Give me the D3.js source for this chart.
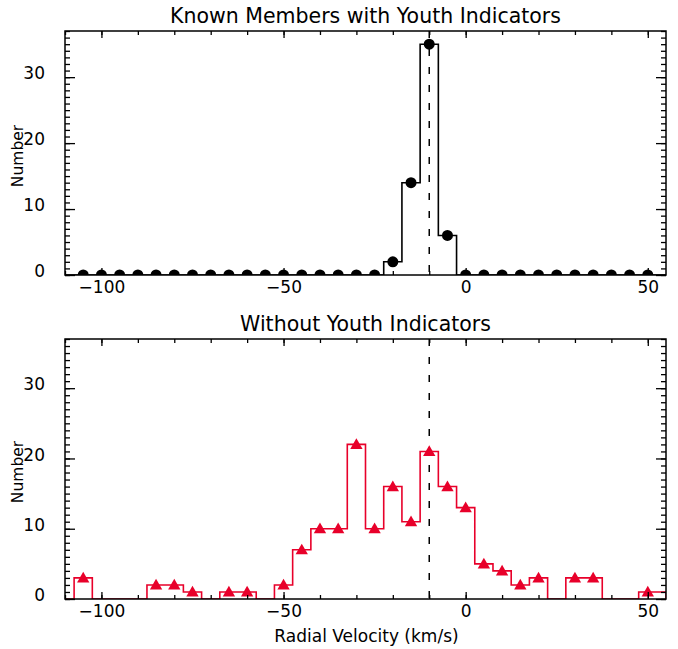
<!DOCTYPE html>
<html>
<head>
<meta charset="utf-8">
<script src="https://cdn.jsdelivr.net/npm/d3@7"></script>
<style>
  html, body { margin: 0; padding: 0; background: #fff; }
  svg { display: block; }
  text { font-family: "DejaVu Sans", "Liberation Sans", sans-serif; fill: #000; }
</style>
</head>
<body>
<svg id="chart" width="678" height="649"></svg>
<script>
// Radial velocity bin centres (km/s), 5 km/s wide
const binCenters = [-105, -100, -95, -90, -85, -80, -75, -70, -65, -60, -55, -50,
  -45, -40, -35, -30, -25, -20, -15, -10, -5, 0, 5, 10, 15, 20, 25, 30, 35, 40, 45, 50];
const binWidth = 5;

// Counts: known members with youth indicators
const youthCounts = [0, 0, 0, 0, 0, 0, 0, 0, 0, 0, 0, 0,
  0, 0, 0, 0, 0, 2, 14, 35, 6, 0, 0, 0, 0, 0, 0, 0, 0, 0, 0, 0];

// Counts: stars without youth indicators
const noYouthCounts = [3, 0, 0, 0, 2, 2, 1, 0, 1, 1, 0, 2,
  7, 10, 10, 22, 10, 16, 11, 21, 16, 13, 5, 4, 2, 3, 0, 3, 3, 0, 0, 1];

// Reference velocity of the group
const meanVelocity = -10;

const xDomain = [-110, 55];
const yDomain = [0, 37];
const xMajorTicks = [-100, -50, 0, 50];
const xMinorTicks = d3.range(-110, 56, 10);
const yMajorTicks = [0, 10, 20, 30];
const yMinorTicks = d3.range(0, 38, 1);

const panels = [
  { title: "Known Members with Youth Indicators", counts: youthCounts, top: 31, bottom: 275,
    color: "#000", marker: "circle", showZeroMarkers: true, xTitle: null },
  { title: "Without Youth Indicators", counts: noYouthCounts, top: 339, bottom: 599,
    color: "#e8002a", marker: "triangle", showZeroMarkers: false, xTitle: "Radial Velocity (km/s)" }
];

const left = 65, right = 666;
const svg = d3.select("#chart");

panels.forEach((p, i) => {
  const x = d3.scaleLinear().domain(xDomain).range([left, right]);
  const y = d3.scaleLinear().domain(yDomain).range([p.bottom, p.top]);
  const g = svg.append("g");

  const clipId = "clip" + i;
  svg.append("clipPath").attr("id", clipId)
    .append("rect").attr("x", left).attr("y", p.top)
    .attr("width", right - left).attr("height", p.bottom - p.top);

  // Step outline of the histogram
  const pts = [[xDomain[0], 0]];
  binCenters.forEach((c, k) => {
    const v = p.counts[k];
    pts.push([c - binWidth / 2, v]);
    pts.push([c + binWidth / 2, v]);
  });
  pts.push([xDomain[1], 0]);
  const stepPts = [];
  pts.forEach((pt, k) => {
    if (k > 0) stepPts.push([pt[0], pts[k - 1][1]]);
    stepPts.push(pt);
  });
  const line = d3.line().x(d => x(d[0])).y(d => y(d[1]));

  const plot = g.append("g").attr("clip-path", `url(#${clipId})`);

  // Dashed line at the mean velocity
  plot.append("line")
    .attr("x1", x(meanVelocity)).attr("x2", x(meanVelocity))
    .attr("y1", y(yDomain[1])).attr("y2", y(0))
    .attr("stroke", "#000").attr("stroke-width", 1.5)
    .attr("stroke-dasharray", "7,11");

  plot.append("path")
    .attr("d", line(stepPts))
    .attr("fill", "none")
    .attr("stroke", p.color)
    .attr("stroke-width", 1.6);

  const markerData = binCenters.map((c, k) => ({ c, v: p.counts[k] }))
    .filter(d => p.showZeroMarkers || d.v > 0);

  if (p.marker === "circle") {
    plot.selectAll("circle.m").data(markerData).enter().append("circle")
      .attr("class", "m")
      .attr("cx", d => x(d.c)).attr("cy", d => y(d.v))
      .attr("r", 5.5).attr("fill", "#000");
  } else {
    const tri = d3.symbol().type(d3.symbolTriangle).size(66);
    plot.selectAll("path.m").data(markerData).enter().append("path")
      .attr("class", "m")
      .attr("d", tri)
      .attr("transform", d => `translate(${x(d.c)},${y(d.v) + 1})`)
      .attr("fill", p.color);
  }

  // Axes: ticks point inward on all four sides
  const styleAxis = sel => {
    sel.select(".domain").remove();
    sel.selectAll(".tick line").attr("stroke", "#000").attr("stroke-width", 1.3);
  };
  g.append("g").attr("transform", `translate(0,${p.bottom})`)
    .call(d3.axisBottom(x).tickValues(xMinorTicks).tickSize(-4).tickFormat(""))
    .call(styleAxis);
  g.append("g").attr("transform", `translate(0,${p.bottom})`)
    .call(d3.axisBottom(x).tickValues(xMajorTicks).tickSize(-7).tickPadding(15))
    .call(styleAxis)
    .call(sel => sel.selectAll(".tick text").attr("font-size", 17).attr("dy", "0.2em"));
  g.append("g").attr("transform", `translate(0,${p.top})`)
    .call(d3.axisTop(x).tickValues(xMinorTicks).tickSize(-4).tickFormat(""))
    .call(styleAxis);
  g.append("g").attr("transform", `translate(0,${p.top})`)
    .call(d3.axisTop(x).tickValues(xMajorTicks).tickSize(-7).tickFormat(""))
    .call(styleAxis);

  g.append("g").attr("transform", `translate(${left},0)`)
    .call(d3.axisLeft(y).tickValues(yMinorTicks).tickSize(-5).tickFormat(""))
    .call(styleAxis);
  g.append("g").attr("transform", `translate(${left},0)`)
    .call(d3.axisLeft(y).tickValues(yMajorTicks).tickSize(-10).tickPadding(20))
    .call(styleAxis)
    .call(sel => sel.selectAll(".tick text").attr("font-size", 17).attr("dy", "0.1em"));
  g.append("g").attr("transform", `translate(${right},0)`)
    .call(d3.axisRight(y).tickValues(yMinorTicks).tickSize(-5).tickFormat(""))
    .call(styleAxis);
  g.append("g").attr("transform", `translate(${right},0)`)
    .call(d3.axisRight(y).tickValues(yMajorTicks).tickSize(-10).tickFormat(""))
    .call(styleAxis);

  // Frame
  g.append("rect")
    .attr("x", left).attr("y", p.top)
    .attr("width", right - left).attr("height", p.bottom - p.top)
    .attr("fill", "none").attr("stroke", "#000").attr("stroke-width", 1.5);

  // Title
  g.append("text")
    .attr("x", (left + right) / 2).attr("y", p.top - 8)
    .attr("text-anchor", "middle").attr("font-size", 20.5)
    .text(p.title);

  // Y label
  g.append("text")
    .attr("transform", `translate(23,${(p.top + p.bottom) / 2 + 3}) rotate(-90)`)
    .attr("text-anchor", "middle").attr("font-size", 15.5)
    .text("Number");

  if (p.xTitle) {
    g.append("text")
      .attr("x", (left + right) / 2 + 1).attr("y", p.bottom + 43)
      .attr("text-anchor", "middle").attr("font-size", 17)
      .text(p.xTitle);
  }
});
</script>
</body>
</html>
